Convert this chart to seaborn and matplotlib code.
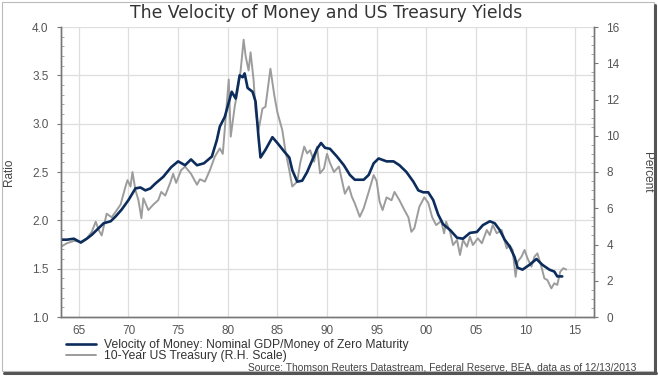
import numpy as np
import pandas as pd
import matplotlib
matplotlib.use("Agg")
import matplotlib.pyplot as plt
import seaborn as sns
from matplotlib.lines import Line2D
from matplotlib.patches import Rectangle
from matplotlib.ticker import MultipleLocator

# velocity of money (MZM)
vel_year = [1963.2, 1963.8, 1964.5, 1965.2, 1965.8, 1966.3, 1966.8, 1967.5, 1968.2, 1968.7,
            1969.3, 1970.0, 1970.7, 1971.2, 1971.7, 1972.2, 1972.7, 1973.5, 1974.3, 1975.0,
            1975.7, 1976.3, 1976.9, 1977.6, 1978.4, 1978.9, 1979.2, 1979.7, 1980.4, 1980.8,
            1981.2, 1981.5, 1981.7, 1982.0, 1982.5, 1982.8, 1983.1, 1983.3, 1983.8, 1984.5,
            1985.0, 1985.7, 1986.2, 1986.5, 1987.0, 1987.5, 1988.0, 1988.5, 1989.0, 1989.4,
            1989.8, 1990.3, 1991.0, 1991.7, 1992.3, 1992.8, 1993.7, 1994.2, 1994.7, 1995.2,
            1996.0, 1996.7, 1997.3, 1998.0, 1998.7, 1999.2, 1999.7, 2000.2, 2000.7, 2001.2,
            2001.7, 2002.4, 2003.1, 2003.7, 2004.4, 2005.1, 2005.7, 2006.4, 2006.9, 2007.4,
            2007.9, 2008.4, 2008.9, 2009.2, 2009.7, 2010.4, 2011.1, 2011.7, 2012.4, 2012.9,
            2013.2, 2013.7]
vel_ratio = [1.80, 1.80, 1.81, 1.77, 1.81, 1.85, 1.90, 1.97, 1.99, 2.04,
             2.11, 2.21, 2.33, 2.34, 2.31, 2.33, 2.38, 2.45, 2.55, 2.61,
             2.57, 2.63, 2.57, 2.59, 2.66, 2.83, 2.97, 3.07, 3.33, 3.26,
             3.50, 3.48, 3.52, 3.37, 3.33, 3.23, 2.86, 2.65, 2.73, 2.86,
             2.80, 2.71, 2.65, 2.52, 2.40, 2.41, 2.50, 2.62, 2.74, 2.80,
             2.75, 2.74, 2.66, 2.57, 2.47, 2.42, 2.42, 2.47, 2.59, 2.64,
             2.61, 2.61, 2.57, 2.50, 2.40, 2.31, 2.29, 2.29, 2.21, 2.06,
             1.96, 1.90, 1.82, 1.81, 1.87, 1.88, 1.95, 1.99, 1.97, 1.90,
             1.80, 1.73, 1.62, 1.51, 1.49, 1.54, 1.60, 1.54, 1.49, 1.47,
             1.42, 1.42]

# 10-year treasury yield, percent
tsy_year = [1963.2, 1963.8, 1964.5, 1965.2, 1965.8, 1966.3, 1966.7, 1967.0, 1967.3, 1967.8,
            1968.3, 1968.7, 1969.2, 1969.7, 1969.9, 1970.2, 1970.4, 1970.7, 1971.0, 1971.3,
            1971.5, 1972.0, 1972.5, 1973.0, 1973.3, 1973.7, 1974.2, 1974.5, 1974.8, 1975.3,
            1975.7, 1976.3, 1976.9, 1977.2, 1977.7, 1978.2, 1978.7, 1979.2, 1979.5, 1979.8,
            1980.1, 1980.3, 1980.7, 1981.0, 1981.3, 1981.6, 1981.8, 1982.1, 1982.3, 1982.6,
            1982.8, 1983.1, 1983.5, 1983.8, 1984.3, 1984.7, 1985.0, 1985.5, 1985.8, 1986.2,
            1986.5, 1987.0, 1987.3, 1987.7, 1988.0, 1988.3, 1988.7, 1989.0, 1989.3, 1989.7,
            1990.0, 1990.3, 1990.7, 1991.2, 1991.5, 1991.8, 1992.2, 1992.5, 1992.8, 1993.3,
            1993.7, 1994.2, 1994.7, 1995.0, 1995.3, 1995.6, 1996.0, 1996.5, 1996.8, 1997.3,
            1997.8, 1998.2, 1998.5, 1998.8, 1999.3, 1999.8, 2000.2, 2000.6, 2001.0, 2001.5,
            2001.8, 2002.0, 2002.4, 2002.7, 2003.1, 2003.4, 2003.7, 2004.1, 2004.4, 2004.7,
            2005.2, 2005.6, 2006.1, 2006.4, 2006.7, 2007.1, 2007.6, 2008.1, 2008.4, 2008.7,
            2009.0, 2009.2, 2009.6, 2009.9, 2010.2, 2010.6, 2010.9, 2011.2, 2011.6, 2011.9,
            2012.2, 2012.6, 2012.9, 2013.2, 2013.5, 2013.8, 2014.1]
tsy_pct = [3.88, 4.07, 4.20, 4.15, 4.34, 4.70, 5.26, 4.80, 4.50, 5.70,
           5.50, 5.80, 6.20, 7.20, 7.55, 7.20, 8.00, 7.00, 6.45, 5.45,
           6.55, 5.90, 6.20, 6.45, 6.90, 6.70, 7.40, 7.90, 7.40, 8.10,
           8.30, 7.90, 7.30, 7.60, 7.47, 8.10, 8.85, 9.30, 9.00, 11.05,
           13.1, 9.95, 11.6, 12.5, 13.6, 15.3, 14.4, 13.6, 14.6, 13.1,
           11.4, 10.3, 11.5, 11.6, 13.7, 12.2, 11.3, 10.3, 9.2, 8.1,
           7.2, 7.47, 8.5, 9.4, 9.03, 9.2, 8.57, 9.4, 7.93, 8.2,
           9.0, 8.5, 8.0, 8.3, 7.56, 6.8, 7.2, 6.64, 6.27, 5.53,
           6.0, 6.9, 7.83, 7.5, 6.36, 5.9, 6.6, 6.44, 6.9, 6.44,
           5.9, 5.5, 4.7, 4.9, 6.08, 6.6, 6.3, 5.5, 5.07, 5.3,
           4.62, 5.26, 4.7, 3.97, 4.25, 3.42, 4.25, 3.88, 4.43, 3.97,
           4.34, 4.07, 4.8, 4.52, 5.08, 4.62, 4.8, 3.79, 3.97, 3.7,
           2.22, 3.05, 3.33, 3.7, 3.24, 2.78, 3.33, 3.51, 2.78, 2.13,
           2.04, 1.58, 1.86, 1.77, 2.5, 2.69, 2.62]

tick_years = [1965, 1970, 1975, 1980, 1985, 1990, 1995, 2000, 2005, 2010, 2015]
tick_labels = ['65', '70', '75', '80', '85', '90', '95', '00', '05', '10', '15']

vel_df = pd.DataFrame({'year': vel_year, 'ratio': vel_ratio})
tsy_df = pd.DataFrame({'year': tsy_year, 'pct': tsy_pct})

sns.set_style('white')
plt.rcParams['font.family'] = ['Liberation Sans', 'DejaVu Sans']

NAVY = '#0c2c5c'
GREY = '#9c9c9c'
TICK_C = '#555555'

fig = plt.figure(figsize=(6.58, 3.77), dpi=100)
ax = fig.add_axes([61 / 658, 1 - 317 / 377, (594 - 61) / 658, (317 - 27) / 377])
ax2 = ax.twinx()

sns.lineplot(data=tsy_df, x='year', y='pct', ax=ax2, color=GREY, lw=1.4)
sns.lineplot(data=vel_df, x='year', y='ratio', ax=ax, color=NAVY, lw=1.9)

# navy on top of the grey series
ax.set_zorder(ax2.get_zorder() + 1)
ax.patch.set_visible(False)
ax2.patch.set_visible(True)
ax2.patch.set_facecolor('white')

ax.set_xlim(1963.2, 2016.9)
ax.set_ylim(1.0, 4.0)
ax2.set_ylim(0, 16)
ax.set_xticks(tick_years)
ax.set_xticklabels(tick_labels)
ax.yaxis.set_major_locator(MultipleLocator(0.5))
ax.yaxis.set_minor_locator(MultipleLocator(0.1))
ax.xaxis.set_minor_locator(MultipleLocator(1))
ax2.yaxis.set_major_locator(MultipleLocator(2))
ax2.yaxis.set_minor_locator(MultipleLocator(0.5))
ax.yaxis.set_major_formatter(matplotlib.ticker.FormatStrFormatter('%.1f'))

# grid lives on the lower (grey) axes so it sits under both lines
for yv in np.arange(1.5, 4.01, 0.5):
    ax2.axhline((yv - 1.0) * 16 / 3, color='#dedede', lw=0.9, zorder=0)
for xv in tick_years:
    ax2.axvline(xv, color='#dedede', lw=0.9, zorder=0)

ax.set_xlabel('')
ax.set_ylabel('Ratio', fontsize=8.5, color='#444444', labelpad=12)
ax2.set_ylabel('Percent', fontsize=8.5, color='#444444', rotation=270, labelpad=24)

for a in (ax, ax2):
    for s in a.spines.values():
        s.set_color('#777777')
        s.set_linewidth(1.0)
    a.spines['top'].set_visible(False)
    a.tick_params(which='major', length=3, direction='out', colors='#777777',
                  labelcolor=TICK_C, labelsize=8.5, pad=6)
    a.tick_params(which='minor', length=2, direction='in', colors='#999999')
ax.tick_params(axis='x', which='major', direction='in', length=3)

fig.text(0.495, 0.965, 'The Velocity of Money and US Treasury Yields', ha='center', va='center',
         fontsize=12.4, color='#333333', family='DejaVu Sans')

handles = [Line2D([], [], color=NAVY, lw=1.9), Line2D([], [], color=GREY, lw=1.4)]
labels = ['Velocity of Money: Nominal GDP/Money of Zero Maturity', '10-Year US Treasury (R.H. Scale)']
fig.legend(handles, labels, loc='upper left', bbox_to_anchor=(60 / 658, 1 - 333 / 377), frameon=False,
           fontsize=8.7, labelspacing=-0.08, handlelength=2.5, handletextpad=0.6, borderpad=0,
           labelcolor='#333333')

fig.text(636 / 658, 1 - 367 / 377,
         'Source: Thomson Reuters Datastream, Federal Reserve, BEA, data as of 12/13/2013',
         ha='right', va='center', fontsize=7.4, color='#444444')

# screenshot-like frame
fig.patches.append(Rectangle((2 / 658, 6 / 377), 652 / 658, 369 / 377, transform=fig.transFigure,
                             fill=False, edgecolor='#bbbbbb', lw=0.8))
fig.add_artist(Line2D([4 / 658, 656 / 658], [4 / 377, 4 / 377], transform=fig.transFigure,
                      color='#555555', lw=2.2))
fig.add_artist(Line2D([655 / 658, 655 / 658], [4 / 377, 372 / 377], transform=fig.transFigure,
                      color='#555555', lw=2.2))

fig.savefig('out.png', dpi=100)
